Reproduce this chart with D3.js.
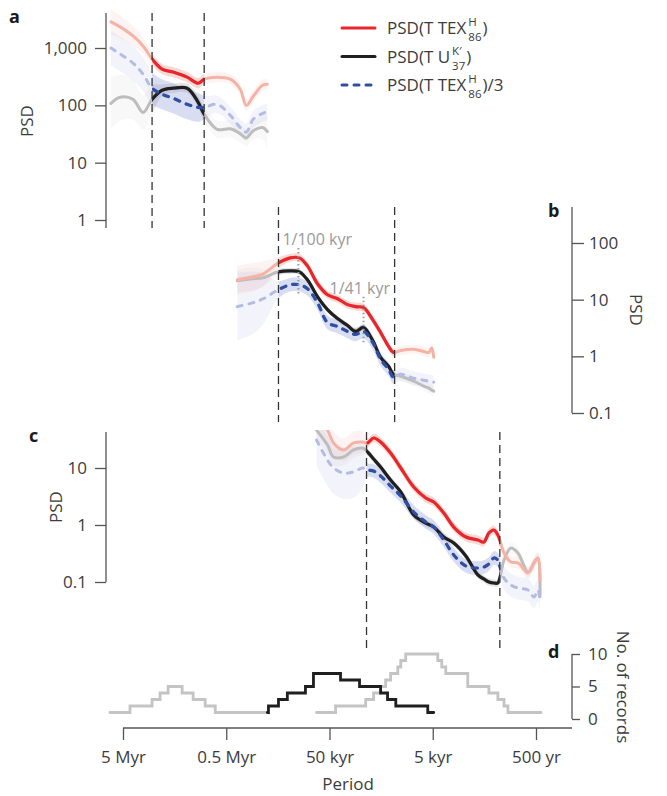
<!DOCTYPE html>
<html>
<head>
<meta charset="utf-8">
<script src="https://cdn.jsdelivr.net/npm/d3@7"></script>
<style>
body { margin: 0; background: #fff; }
svg text { font-family: "Open Sans", sans-serif; fill: #3c3c3c; }
</style>
</head>
<body>
<svg id="chart" width="667" height="796"></svg>
<script>
// periods are in kyr
const tickPeriods = [5000, 500, 50, 5, 0.5];
const tickLabels = ["5 Myr", "0.5 Myr", "50 kyr", "5 kyr", "500 yr"];

// panel a
const periodA = [6540, 5340, 4000, 3197, 2615, 2092, 1636, 1196, 935, 818, 611, 457, 366, 320, 274, 223, 200];
const texA = [2860, 2336, 1625, 1084, 641, 428, 380, 310, 243, 286, 310, 286, 191, 100, 144, 224, 234];
const uk37A = [108, 138, 127, 75, 127, 183, 199, 199, 113, 70, 38, 39, 32, 27, 36, 41, 35];
const texThirdA = [1000, 785, 545, 350, 199, 156, 133, 104, 92, 92, 104, 67, 41, 34, 57, 72, 78];
const texErrA = [0.22, 0.2, 0.17, 0.14, 0.1, 0.09, 0.09, 0.09, 0.09, 0.09, 0.09, 0.09, 0.1, 0.1, 0.1, 0.1, 0.1];
const uk37ErrA = [0.45, 0.4, 0.35, 0.3, 0.25, 0.1, 0.08, 0.08, 0.1, 0.12, 0.15, 0.15, 0.15, 0.15, 0.15, 0.2, 0.3];
const texThirdErrA = [0.3, 0.3, 0.3, 0.3, 0.28, 0.26, 0.26, 0.26, 0.25, 0.2, 0.15, 0.15, 0.15, 0.15, 0.15, 0.15, 0.15];
const boldA = [2615, 818];

// panel b
const periodB = [391, 274, 219, 156, 120, 97.8, 81.8, 65.4, 52.3, 41.8, 33.4, 28.0, 23.4, 19.1, 16.0, 13.4, 12.0, 10.2, 7.64, 6.11, 5.47, 5.12, 4.89];
const texB = [22.4, 25.3, 28.6, 44.6, 54.6, 54.6, 39.5, 19.1, 12.2, 10.4, 8.17, 7.54, 7.24, 4.46, 2.64, 1.50, 1.17, 1.27, 1.33, 1.22, 1.17, 1.40, 0.96];
const uk37B = [21.5, 23.4, 24.3, 31.0, 32.3, 31.0, 22.4, 11.3, 6.68, 4.64, 3.50, 2.75, 3.23, 1.91, 0.96, 0.668, 0.483, 0.446, 0.364, 0.298, 0.275, 0.253, 0.243];
const texThirdB = [7.54, 8.86, 10.4, 15.0, 18.3, 18.3, 15.6, 8.86, 3.95, 3.36, 2.75, 2.43, 2.75, 1.76, 0.886, 0.591, 0.428, 0.483, 0.411, 0.379, 0.364, 0.350, 0.350];
const texErrB = [0.25, 0.25, 0.22, 0.1, 0.07, 0.07, 0.07, 0.07, 0.07, 0.07, 0.07, 0.07, 0.07, 0.07, 0.07, 0.07, 0.07, 0.08, 0.08, 0.08, 0.08, 0.1, 0.1];
const uk37ErrB = [0.2, 0.2, 0.15, 0.06, 0.05, 0.05, 0.05, 0.05, 0.05, 0.05, 0.05, 0.05, 0.05, 0.05, 0.05, 0.05, 0.06, 0.08, 0.08, 0.08, 0.1, 0.1, 0.1];
const texThirdErrB = [0.6, 0.55, 0.45, 0.15, 0.12, 0.12, 0.12, 0.12, 0.12, 0.12, 0.12, 0.12, 0.12, 0.12, 0.12, 0.12, 0.12, 0.12, 0.12, 0.12, 0.12, 0.12, 0.12];
const boldB = [156, 11.7];
const markerLabels = ["1/100 kyr", "1/41 kyr"];
const markerPeriods = [100, 23.4];
const markerTop = [81.7, 11.3];
const markerBottom = [12.2, 1.62];

// panel c
const periodC = [66.8, 52.3, 45.7, 36.6, 29.2, 23.9, 21.4, 18.7, 16.0, 12.8, 10.2, 7.64, 5.85, 4.89, 3.91, 3.13, 2.39, 1.83, 1.60, 1.43, 1.28, 1.17, 1.12, 1.02, 0.875, 0.748, 0.598, 0.523, 0.479, 0.457];
const texC = [85.1, 46.4, 27.5, 20.7, 27.5, 28.6, 27.5, 33.6, 28.6, 18.3, 10, 4.64, 2.98, 2.53, 1.62, 0.92, 0.615, 0.546, 0.503, 0.724, 0.817, 0.668, 0.546, 0.323, 0.224, 0.216, 0.144, 0.216, 0.264, 0.108];
const uk37C = [46.4, 25.3, 15.6, 15.6, 20.7, 22.4, 19.1, 14.4, 10.4, 6.16, 3.79, 1.50, 1.08, 0.92, 0.615, 0.483, 0.286, 0.133, 0.113, 0.1, 0.096, 0.096, 0.117, 0.243, 0.395, 0.323, 0.150, 0.216, 0.264, 0.055];
const texThirdC = [31.0, 13.8, 10, 8.17, 8.51, 10, 9.22, 8.86, 7.24, 4.83, 3.23, 1.69, 1.13, 0.92, 0.546, 0.298, 0.191, 0.176, 0.183, 0.207, 0.264, 0.243, 0.191, 0.117, 0.0886, 0.0785, 0.0724, 0.0546, 0.0724, 0.0483];
const texErrC = [0.2, 0.2, 0.2, 0.2, 0.2, 0.18, 0.08, 0.08, 0.08, 0.08, 0.08, 0.08, 0.08, 0.08, 0.08, 0.08, 0.08, 0.08, 0.08, 0.08, 0.08, 0.08, 0.08, 0.1, 0.1, 0.1, 0.1, 0.1, 0.1, 0.1];
const uk37ErrC = [0.15, 0.15, 0.15, 0.15, 0.15, 0.12, 0.06, 0.06, 0.06, 0.06, 0.06, 0.06, 0.06, 0.06, 0.06, 0.06, 0.06, 0.06, 0.06, 0.06, 0.06, 0.06, 0.06, 0.1, 0.1, 0.1, 0.1, 0.1, 0.1, 0.1];
const texThirdErrC = [0.45, 0.45, 0.45, 0.45, 0.45, 0.35, 0.12, 0.12, 0.12, 0.12, 0.12, 0.12, 0.12, 0.12, 0.12, 0.12, 0.12, 0.12, 0.12, 0.12, 0.12, 0.12, 0.15, 0.2, 0.2, 0.2, 0.2, 0.2, 0.2, 0.2];
const boldC = [21.9, 1.12];

// panel d: [period kyr, number of records], step after
const recordsGrayLeft = [[6687, 1], [4277, 2], [2615, 3], [2186, 4], [1828, 5], [1337, 4], [1046, 3], [800, 2], [639, 1], [200, 1]];
const recordsBlack = [[200, 1], [195, 2], [156, 3], [128, 4], [85.5, 5], [71.5, 7], [39.1, 6], [25.6, 5], [16.0, 4], [13.7, 3], [11.4, 2], [5.59, 1], [4.89, 1]];
const recordsGrayRight = [[66.8, 1], [43.7, 2], [22.3, 3], [18.7, 4], [16.0, 5], [14.3, 6], [12.8, 7], [10.9, 8], [10.2, 9], [9.14, 10], [4.47, 9], [4.09, 8], [3.74, 7], [2.29, 5], [1.43, 4], [1.17, 3], [1.02, 2], [0.935, 1], [0.447, 1]];

const svg = d3.select("#chart");
const defs = svg.append("defs");
const axisColour = "#555";

const x = d3.scaleLog().domain([5000, 0.5]).range([123, 536]);

const seriesStyle = [
    { colour: "#e8262b", light: "#f6b3a5", band: "#f08a7c", dash: null },
    { colour: "#1f1f1f", light: "#bdbdbd", band: "#a8a8a8", dash: null },
    { colour: "#2f4fa3", light: "#b3bce2", band: "#8a97d6", dash: "5,7" }
];

const panels = [
    {
        key: "a", period: periodA, values: [texA, uk37A, texThirdA], errs: [texErrA, uk37ErrA, texThirdErrA],
        bold: boldA, y: d3.scaleLog().domain([1, 1000]).range([220, 48]), clip: [8, 232], dashY: [13, 228]
    },
    {
        key: "b", period: periodB, values: [texB, uk37B, texThirdB], errs: [texErrB, uk37ErrB, texThirdErrB],
        bold: boldB, y: d3.scaleLog().domain([0.1, 100]).range([413, 243]), clip: [205, 425], dashY: [207, 422]
    },
    {
        key: "c", period: periodC, values: [texC, uk37C, texThirdC], errs: [texErrC, uk37ErrC, texThirdErrC],
        bold: boldC, y: d3.scaleLog().domain([0.1, 10]).range([582, 468]), clip: [430, 650], dashY: [432, 648]
    }
];

const drawPanel = (p) => {
    const g = svg.append("g");
    defs.append("clipPath").attr("id", "clip-" + p.key)
        .append("rect").attr("x", 0).attr("y", p.clip[0]).attr("width", 667).attr("height", p.clip[1] - p.clip[0]);
    defs.append("clipPath").attr("id", "bold-" + p.key)
        .append("rect").attr("x", x(p.bold[0])).attr("y", p.clip[0])
        .attr("width", x(p.bold[1]) - x(p.bold[0])).attr("height", p.clip[1] - p.clip[0]);

    const line = d3.line()
        .x(d => x(d.period)).y(d => p.y(d.v))
        .curve(d3.curveCatmullRom.alpha(0.5));
    const area = d3.area()
        .x(d => x(d.period))
        .y0(d => p.y(d.v / Math.pow(10, d.e)))
        .y1(d => p.y(d.v * Math.pow(10, d.e)))
        .curve(d3.curveCatmullRom.alpha(0.5));

    const series = p.values.map((vals, s) => vals.map((v, i) => ({ period: p.period[i], v: v, e: p.errs[s][i] })));
    const order = [1, 2, 0];

    const inner = g.append("g").attr("clip-path", `url(#clip-${p.key})`);
    const bandLayer = inner.append("g");
    const boldBandLayer = inner.append("g").attr("clip-path", `url(#bold-${p.key})`);
    const lightLayer = inner.append("g");
    const boldLayer = inner.append("g").attr("clip-path", `url(#bold-${p.key})`);

    order.forEach(s => {
        bandLayer.append("path").attr("d", area(series[s]))
            .attr("fill", seriesStyle[s].band).attr("opacity", s === 1 ? 0.08 : 0.1);
        boldBandLayer.append("path").attr("d", area(series[s]))
            .attr("fill", seriesStyle[s].band).attr("opacity", 0.25);
        lightLayer.append("path").attr("d", line(series[s]))
            .attr("fill", "none")
            .attr("stroke", seriesStyle[s].light)
            .attr("stroke-width", 3)
            .attr("stroke-linecap", "round")
            .attr("stroke-dasharray", seriesStyle[s].dash);
    });
    [1, 0, 2].forEach(s => {
        boldLayer.append("path").attr("d", line(series[s]))
            .attr("fill", "none")
            .attr("stroke", seriesStyle[s].colour)
            .attr("stroke-width", 3.2)
            .attr("stroke-linecap", "round")
            .attr("stroke-dasharray", seriesStyle[s].dash);
    });

    // dashed boundaries
    g.selectAll(".bound")
        .data(p.bold)
        .join("line")
        .attr("x1", d => x(d)).attr("x2", d => x(d))
        .attr("y1", p.dashY[0]).attr("y2", p.dashY[1])
        .attr("stroke", "#333")
        .attr("stroke-width", 1.3)
        .attr("stroke-dasharray", "8,5");
};

panels.forEach(drawPanel);

// y axes
const styleAxis = (sel) => {
    sel.select(".domain").remove();
    sel.selectAll(".tick line").attr("stroke", axisColour).attr("stroke-width", 1.3);
    sel.selectAll(".tick text").attr("font-size", 17).attr("fill", "#3c3c3c");
    sel.attr("font-family", null);
};
const fmt = d => d3.format(",")(d);

const axisA = svg.append("g").attr("transform", "translate(106,0)")
    .call(d3.axisLeft(panels[0].y).tickValues([1, 10, 100, 1000]).tickFormat(fmt).tickSize(11).tickPadding(8))
    .call(styleAxis);
axisA.append("line").attr("y1", 13).attr("y2", 228).attr("stroke", axisColour).attr("stroke-width", 1.3);

const axisB = svg.append("g").attr("transform", "translate(572,0)")
    .call(d3.axisRight(panels[1].y).tickValues([0.1, 1, 10, 100]).tickFormat(fmt).tickSize(12).tickPadding(5))
    .call(styleAxis);
axisB.append("line").attr("y1", 207).attr("y2", panels[1].y(0.1)).attr("stroke", axisColour).attr("stroke-width", 1.3);

const axisC = svg.append("g").attr("transform", "translate(106,0)")
    .call(d3.axisLeft(panels[2].y).tickValues([0.1, 1, 10]).tickFormat(fmt).tickSize(11).tickPadding(8))
    .call(styleAxis);
axisC.append("line").attr("y1", 432).attr("y2", panels[2].y(0.1)).attr("stroke", axisColour).attr("stroke-width", 1.3);

// panel b period markers
markerPeriods.forEach((m, i) => {
    const yb = panels[1].y;
    svg.append("line")
        .attr("x1", x(m)).attr("x2", x(m))
        .attr("y1", yb(markerTop[i])).attr("y2", yb(markerBottom[i]))
        .attr("stroke", "#9a9a9a").attr("stroke-width", 2)
        .attr("stroke-dasharray", "1.5,2.5");
    svg.append("text")
        .attr("x", x(m) - (i === 0 ? 16 : 34))
        .attr("y", yb(markerTop[i]) - 3)
        .attr("font-size", 16)
        .style("fill", "#9a9a9a")
        .text(markerLabels[i]);
});

// panel d
const yd = d3.scaleLinear().domain([0, 10]).range([719, 654]);
const stepLine = d3.line().x(d => x(d[0])).y(d => yd(d[1])).curve(d3.curveStepAfter);
[[recordsGrayLeft, "#c4c4c4"], [recordsGrayRight, "#c4c4c4"], [recordsBlack, "#1f1f1f"]].forEach(([data, colour]) => {
    svg.append("path").attr("d", stepLine(data))
        .attr("fill", "none").attr("stroke", colour)
        .attr("stroke-width", 2.8).attr("stroke-linecap", "round");
});

const axisD = svg.append("g").attr("transform", "translate(572,0)")
    .call(d3.axisRight(yd).tickValues([0, 5, 10]).tickSize(8).tickPadding(8))
    .call(styleAxis);
axisD.append("line").attr("y1", yd(10)).attr("y2", yd(0)).attr("stroke", axisColour).attr("stroke-width", 1.3);

// x axis
const axisX = svg.append("g").attr("transform", "translate(0,728)")
    .call(d3.axisBottom(x).tickValues(tickPeriods).tickFormat((d, i) => tickLabels[i]).tickSize(12).tickPadding(11))
    .call(styleAxis);
axisX.append("line").attr("x1", 123).attr("x2", 572).attr("stroke", axisColour).attr("stroke-width", 1.3);

svg.append("text").attr("x", 348).attr("y", 790).attr("text-anchor", "middle").attr("font-size", 17).text("Period");

// axis titles
const titles = [
    { text: "PSD", x: 33, y: 121, rot: -90 },
    { text: "PSD", x: 630, y: 310, rot: 90 },
    { text: "PSD", x: 62, y: 507, rot: -90 },
    { text: "No. of records", x: 617, y: 687, rot: 90 }
];
svg.selectAll(".axis-title")
    .data(titles)
    .join("text")
    .attr("class", "axis-title")
    .attr("transform", d => `translate(${d.x},${d.y})rotate(${d.rot})`)
    .attr("text-anchor", "middle")
    .attr("font-size", 17)
    .text(d => d.text);

// panel letters
const letters = [
    { t: "a", x: 9, y: 23 }, { t: "b", x: 548, y: 217 }, { t: "c", x: 29, y: 442 }, { t: "d", x: 548, y: 658 }
];
svg.selectAll(".letter")
    .data(letters)
    .join("text")
    .attr("class", "letter")
    .attr("x", d => d.x).attr("y", d => d.y)
    .attr("font-size", 18).attr("font-weight", "bold")
    .style("fill", "#1a1a1a")
    .text(d => d.t);

// legend: one text per row, stacked super/subscript via tspans
const legendRows = [
    { pre: "PSD(T TEX", sup: "H", sub: "86", post: ")", s: 0 },
    { pre: "PSD(T U", sup: "K\u2032", sub: "37", post: ")", s: 1 },
    { pre: "PSD(T TEX", sup: "H", sub: "86", post: ")/3", s: 2 }
];
legendRows.forEach((r, i) => {
    const ry = 28 + i * 28.5;
    svg.append("line")
        .attr("x1", 342).attr("x2", 375).attr("y1", ry).attr("y2", ry)
        .attr("stroke", seriesStyle[r.s].colour).attr("stroke-width", 3)
        .attr("stroke-linecap", "round")
        .attr("stroke-dasharray", seriesStyle[r.s].dash);
    const t = svg.append("text").attr("x", 387).attr("y", ry + 6).attr("font-size", 17);
    const pre = t.append("tspan").text(r.pre);
    const sx = 387 + pre.node().getComputedTextLength() + 2;
    const sup = t.append("tspan").attr("x", sx).attr("y", ry - 2).attr("font-size", 11.5).text(r.sup);
    const sub = t.append("tspan").attr("x", sx).attr("y", ry + 13).attr("font-size", 11.5).text(r.sub);
    const sw = Math.max(sup.node().getComputedTextLength(), sub.node().getComputedTextLength());
    t.append("tspan").attr("x", sx + sw + 1).attr("y", ry + 6).text(r.post);
});
</script>
</body>
</html>
